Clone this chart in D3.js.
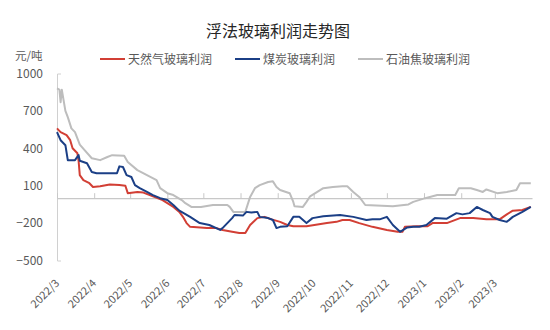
<!DOCTYPE html>
<html>
<head>
<meta charset="utf-8">
<script src="https://cdn.jsdelivr.net/npm/d3@7"></script>
<style>
  html, body { margin: 0; padding: 0; background: #fff; }
  svg { display: block; font-family: "Noto Sans CJK SC", "Noto Sans", sans-serif; }
</style>
</head>
<body>
<div id="chart"></div>
<script>
const title = "浮法玻璃利润走势图";
const unitLabel = "元/吨";
const seriesNames = ["天然气玻璃利润", "煤炭玻璃利润", "石油焦玻璃利润"];
const yTicks = [1000, 700, 400, 100, -200, -500];
const monthTicks = ["2022-03-01","2022-04-01","2022-05-01","2022-06-01","2022-07-01","2022-08-01","2022-09-01","2022-10-01","2022-11-01","2022-12-01","2023-01-01","2023-02-01","2023-03-01"];
const xDomain = ["2022-03-01", "2023-04-01"];

// 天然气玻璃利润
const gasDates = ["2022-03-01","2022-03-04","2022-03-09","2022-03-12","2022-03-14","2022-03-18","2022-03-19","2022-03-20","2022-03-23","2022-03-28","2022-03-31","2022-04-06","2022-04-14","2022-04-22","2022-04-27","2022-04-29","2022-05-07","2022-05-12","2022-05-20","2022-05-28","2022-06-06","2022-06-11","2022-06-14","2022-06-17","2022-06-20","2022-07-04","2022-07-12","2022-07-17","2022-07-25","2022-07-31","2022-08-05","2022-08-09","2022-08-15","2022-08-21","2022-08-27","2022-09-03","2022-09-09","2022-09-14","2022-09-25","2022-10-12","2022-10-20","2022-10-25","2022-10-31","2022-11-08","2022-11-19","2022-12-01","2022-12-10","2022-12-14","2022-12-16","2022-12-26","2023-01-04","2023-01-08","2023-01-20","2023-01-31","2023-02-11","2023-02-22","2023-03-05","2023-03-11","2023-03-16","2023-03-24","2023-03-31"];
const gasValues = [560,530,505,465,400,360,300,185,145,120,90,95,110,105,100,40,50,45,15,-15,-70,-110,-150,-200,-230,-240,-240,-255,-270,-280,-280,-215,-160,-150,-170,-190,-215,-225,-225,-200,-190,-175,-175,-200,-230,-255,-270,-270,-230,-225,-225,-200,-200,-160,-160,-170,-170,-130,-100,-95,-70];

// 煤炭玻璃利润
const coalDates = ["2022-03-01","2022-03-04","2022-03-08","2022-03-10","2022-03-16","2022-03-19","2022-03-20","2022-03-26","2022-03-30","2022-04-03","2022-04-20","2022-04-22","2022-04-25","2022-04-28","2022-05-02","2022-05-05","2022-05-09","2022-05-15","2022-05-20","2022-05-26","2022-06-01","2022-06-06","2022-06-11","2022-06-20","2022-06-28","2022-07-06","2022-07-15","2022-07-17","2022-07-21","2022-07-25","2022-07-27","2022-08-03","2022-08-06","2022-08-10","2022-08-15","2022-08-17","2022-08-24","2022-08-28","2022-08-31","2022-09-03","2022-09-09","2022-09-14","2022-09-19","2022-09-25","2022-09-30","2022-10-09","2022-10-23","2022-11-03","2022-11-14","2022-11-19","2022-11-25","2022-12-01","2022-12-06","2022-12-12","2022-12-18","2022-12-23","2022-12-28","2023-01-03","2023-01-10","2023-01-20","2023-01-28","2023-02-02","2023-02-08","2023-02-14","2023-02-19","2023-02-25","2023-02-27","2023-03-05","2023-03-11","2023-03-16","2023-03-24","2023-03-31"];
const coalValues = [530,465,425,305,305,345,300,280,210,200,200,255,250,185,170,105,80,50,25,0,-15,-55,-100,-150,-200,-215,-255,-240,-200,-160,-135,-140,-110,-115,-110,-150,-160,-175,-240,-230,-225,-150,-150,-200,-160,-145,-135,-150,-175,-170,-170,-150,-215,-270,-235,-230,-230,-215,-160,-165,-120,-130,-120,-70,-95,-120,-150,-175,-190,-150,-110,-70];

// 石油焦玻璃利润
const cokeDates = ["2022-03-01","2022-03-03","2022-03-04","2022-03-05","2022-03-08","2022-03-10","2022-03-13","2022-03-16","2022-03-20","2022-03-24","2022-03-30","2022-04-06","2022-04-12","2022-04-16","2022-04-26","2022-04-29","2022-05-07","2022-05-15","2022-05-23","2022-05-26","2022-06-01","2022-06-06","2022-06-13","2022-06-16","2022-06-21","2022-06-29","2022-07-09","2022-07-21","2022-07-23","2022-07-26","2022-08-05","2022-08-09","2022-08-13","2022-08-17","2022-08-24","2022-08-28","2022-08-31","2022-09-03","2022-09-11","2022-09-14","2022-09-15","2022-09-22","2022-09-25","2022-09-28","2022-10-09","2022-10-17","2022-10-25","2022-10-29","2022-11-03","2022-11-08","2022-11-13","2022-12-06","2022-12-19","2022-12-23","2023-01-02","2023-01-12","2023-01-27","2023-01-30","2023-02-09","2023-02-14","2023-02-19","2023-02-22","2023-03-03","2023-03-11","2023-03-19","2023-03-22","2023-03-31"];
const cokeValues = [880,870,770,870,700,650,560,530,430,385,320,305,330,345,340,290,225,185,145,80,40,25,-15,-40,-70,-70,-55,-55,-70,-110,-110,10,80,105,130,135,90,65,40,-30,-65,-70,-30,15,80,90,95,95,50,10,-55,-65,-50,-30,0,25,25,80,80,65,50,70,40,50,65,120,120];

const colors = ["#d23f35", "#1b3f86", "#bdbdbd"];

const W = 550, H = 330;
const svg = d3.select("#chart").append("svg").attr("width", W).attr("height", H);

const parse = d3.timeParse("%Y-%m-%d");
const x = d3.scaleTime().domain(xDomain.map(parse)).range([57, 532]);
const y = d3.scaleLinear().domain([-500, 1000]).range([260.5, 73.5]);

// title
svg.append("text").attr("x", 278).attr("y", 37).attr("text-anchor", "middle")
  .attr("font-size", 16).attr("fill", "#262626").text(title);

// unit
svg.append("text").attr("x", 15).attr("y", 60).attr("font-size", 11.5).attr("fill", "#595959").text(unitLabel);

// legend
const legendX = [100, 235, 358];
seriesNames.forEach((n, i) => {
  const g = svg.append("g").attr("transform", `translate(${legendX[i]},59)`);
  g.append("line").attr("x1", 0).attr("x2", 25).attr("y1", 0).attr("y2", 0)
    .attr("stroke", colors[i]).attr("stroke-width", 2);
  g.append("text").attr("x", 28).attr("y", 5).attr("font-size", 12).attr("fill", "#595959").text(n);
});

// y axis
const yAxis = d3.axisLeft(y).tickValues(yTicks).tickSizeInner(0).tickSizeOuter(-4).tickPadding(14).tickFormat(d3.format("d"));
const yg = svg.append("g").attr("transform", "translate(57,0)").call(yAxis);
yg.select(".domain").attr("stroke", "#d0d0d0");
yg.selectAll("text").attr("font-size", 12).attr("fill", "#595959").attr("font-family", "\"Noto Sans CJK SC\", sans-serif");

// zero line axis with month ticks
const xAxis = d3.axisTop(x).tickValues(monthTicks.map(parse)).tickSizeInner(5).tickSizeOuter(0).tickFormat("");
const xg = svg.append("g").attr("transform", `translate(0,${y(0)})`).call(xAxis);
xg.select(".domain").attr("stroke", "#c8c8c8").attr("stroke-width", 1.3);
xg.selectAll(".tick line").attr("stroke", "#c8c8c8");

// x labels
const fmt = d3.timeFormat("%Y/%-m");
svg.append("g").selectAll("text").data(monthTicks.map(parse)).join("text")
  .attr("transform", d => `translate(${x(d) + 3},${y(-500) + 23.5}) rotate(-45)`)
  .attr("text-anchor", "end").attr("font-size", 11).attr("fill", "#595959")
  .text(d => fmt(d));

// lines
const line = d3.line().x(d => x(d[0])).y(d => y(d[1])).curve(d3.curveLinear);
const series = [
  [gasDates, gasValues],
  [coalDates, coalValues],
  [cokeDates, cokeValues]
];
[2, 0, 1].forEach(i => {
  const [ds, vs] = series[i];
  const pts = ds.map((d, k) => [parse(d), vs[k]]);
  svg.append("path").attr("d", line(pts)).attr("fill", "none")
    .attr("stroke", colors[i]).attr("stroke-width", 2).attr("stroke-linejoin", "round");
});
</script>
</body>
</html>
